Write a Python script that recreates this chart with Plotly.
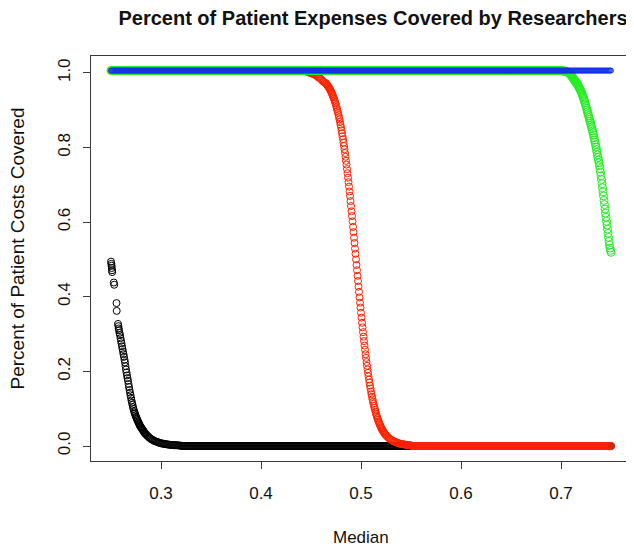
import numpy as np
import plotly.graph_objects as go

def grid(a, b, step):
    return np.round(np.arange(a, b + step / 2, step), 4).tolist()

# ---------------- data ----------------
plateau = 1.006

# black series
black_start_x = [0.2500, 0.2503, 0.2506, 0.2508, 0.2510, 0.2512, 0.2528, 0.2532, 0.2555, 0.2557,
                 0.2570, 0.2574, 0.2577, 0.2580, 0.2585, 0.2590, 0.2595, 0.2600, 0.2605, 0.2610,
                 0.2615, 0.2620, 0.2625, 0.2630, 0.2635, 0.2640, 0.2645]
black_start_y = [0.494, 0.488, 0.483, 0.477, 0.471, 0.466, 0.438, 0.432, 0.383, 0.362,
                 0.327, 0.321, 0.315, 0.310, 0.303, 0.297, 0.289, 0.282, 0.275, 0.267,
                 0.260, 0.253, 0.246, 0.239, 0.231, 0.224, 0.214]
black_fine_y = [0.205, 0.197, 0.189, 0.182, 0.175, 0.166, 0.158, 0.150, 0.143, 0.136,
                0.129, 0.122, 0.116, 0.110, 0.104, 0.099, 0.094, 0.090, 0.086, 0.082,
                0.078, 0.075, 0.072, 0.069, 0.066, 0.063, 0.060, 0.057, 0.054, 0.052,
                0.050, 0.048, 0.046, 0.044, 0.042, 0.040, 0.038, 0.036, 0.034, 0.033, 0.031]
black_coarse_y = [0.028, 0.026, 0.023, 0.021, 0.019, 0.017, 0.016, 0.014, 0.013, 0.012,
                  0.011, 0.010, 0.009, 0.008, 0.007, 0.007, 0.006, 0.006, 0.005, 0.005,
                  0.004, 0.004, 0.004, 0.003, 0.003, 0.003, 0.003, 0.002, 0.002, 0.002,
                  0.002, 0.002, 0.001, 0.001, 0.001]

# red series
red_shoulder_y = [1.004, 1.003, 1.002, 1.001, 1.000, 0.999, 0.998, 0.997, 0.996, 0.995,
                  0.993, 0.991, 0.989, 0.987, 0.985, 0.983, 0.980, 0.977, 0.975, 0.973]
red_drop_y = [0.972, 0.970, 0.968, 0.966, 0.964, 0.962, 0.960, 0.958, 0.955, 0.953,
              0.950, 0.947, 0.944, 0.941, 0.937, 0.934, 0.930, 0.926, 0.922, 0.918,
              0.913, 0.908, 0.903, 0.898, 0.893, 0.887, 0.881, 0.875, 0.868, 0.861,
              0.854, 0.846, 0.838, 0.830, 0.822, 0.813, 0.804, 0.795, 0.785, 0.775,
              0.764, 0.754, 0.742, 0.731, 0.719, 0.707, 0.695, 0.682, 0.670, 0.656,
              0.643, 0.629, 0.616, 0.602, 0.587, 0.573, 0.558, 0.544, 0.529, 0.515,
              0.500,
              0.485, 0.471, 0.456, 0.442, 0.427, 0.413, 0.398, 0.384, 0.371, 0.357,
              0.344, 0.330, 0.318, 0.305, 0.293, 0.281, 0.269, 0.258, 0.246, 0.236,
              0.225, 0.215, 0.205, 0.196, 0.187, 0.178, 0.170, 0.162, 0.154, 0.146,
              0.139, 0.132, 0.125, 0.119, 0.113, 0.107, 0.102, 0.097, 0.092, 0.087,
              0.082, 0.078, 0.074, 0.070, 0.066, 0.063, 0.059, 0.056, 0.053, 0.050,
              0.047, 0.045, 0.042, 0.040, 0.038, 0.036, 0.034, 0.032, 0.030, 0.029]
red_tail_y = [0.026, 0.023, 0.021, 0.019, 0.017, 0.015, 0.014, 0.012, 0.011, 0.010,
              0.009, 0.008, 0.007, 0.006, 0.006, 0.005, 0.005, 0.004, 0.004, 0.003,
              0.003, 0.003, 0.002, 0.002, 0.002]

# green series
green_drop_y = [1.006, 1.006, 1.006, 1.005, 1.005, 1.005, 1.005, 1.004, 1.004, 1.004, 1.003, 1.003, 1.003,
                1.002, 1.001, 1.000, 0.999, 0.998, 0.997, 0.996, 0.994, 0.992, 0.990, 0.988, 0.986,
                0.984, 0.982, 0.980, 0.978, 0.976, 0.974, 0.973, 0.971, 0.969, 0.966, 0.964, 0.961,
                0.958, 0.956, 0.953, 0.950, 0.947, 0.944, 0.940, 0.936, 0.932, 0.928, 0.924, 0.920,
                0.915, 0.910, 0.905, 0.900, 0.895, 0.890, 0.885, 0.880, 0.875, 0.870, 0.865, 0.860,
                0.855, 0.850, 0.844, 0.839, 0.833, 0.826, 0.820, 0.814, 0.808, 0.801, 0.794, 0.787,
                0.780, 0.773, 0.766, 0.759, 0.751, 0.743, 0.734, 0.724, 0.714, 0.703, 0.692, 0.681,
                0.670, 0.658, 0.647, 0.635, 0.624, 0.613, 0.602, 0.592, 0.581, 0.570, 0.559, 0.548,
                0.538, 0.530, 0.524, 0.519]

x_tick_vals = [0.3, 0.4, 0.5, 0.6, 0.7]
x_tick_text = ["0.3", "0.4", "0.5", "0.6", "0.7"]
y_tick_vals = [0.0, 0.2, 0.4, 0.6, 0.8, 1.0]
y_tick_text = ["0.0", "0.2", "0.4", "0.6", "0.8", "1.0"]

# ---------------- assemble ----------------
bx_fine = grid(0.265, 0.285, 0.0005)
bx_coarse = grid(0.286, 0.320, 0.001)
bx_flat = grid(0.321, 0.750, 0.001)
black_x = black_start_x + bx_fine + bx_coarse + bx_flat
black_y = black_start_y + black_fine_y + black_coarse_y + [0.0] * len(bx_flat)

rx_plat = grid(0.250, 0.444, 0.001)
rx_sh = grid(0.445, 0.464, 0.001)
rx_drop = grid(0.465, 0.525, 0.0005)
rx_tail = grid(0.526, 0.550, 0.001)
rx_flat = grid(0.551, 0.750, 0.001)
red_x = rx_plat + rx_sh + rx_drop + rx_tail + rx_flat
red_y = [plateau] * len(rx_plat) + red_shoulder_y + red_drop_y + red_tail_y + [0.0] * len(rx_flat)

gx_plat = grid(0.250, 0.699, 0.001)
gx_drop = grid(0.700, 0.750, 0.0005)
green_x = gx_plat + gx_drop
green_y = [plateau] * len(gx_plat) + green_drop_y

blue_x = grid(0.250, 0.750, 0.001)
blue_y = [plateau] * len(blue_x)

series = [
    (black_x, black_y, "#000000", 7),
    (red_x, red_y, "#ff2200", 7),
    (green_x, green_y, "#22ee22", 8),
    (blue_x, blue_y, "#1030e8", 5),
]

fig = go.Figure()
for xs, ys, col, sz in series:
    fig.add_trace(go.Scatter(
        x=xs, y=ys, mode="markers",
        marker=dict(symbol="circle-open", size=sz, color=col, line=dict(width=1, color=col)),
        showlegend=False, hoverinfo="skip",
    ))

FONT = "Liberation Sans, Arial, Helvetica, sans-serif"
LINE = "#3a3a3a"
axis_common = dict(
    showgrid=False, zeroline=False, showline=True, mirror=True,
    linecolor=LINE, linewidth=1, layer="above traces",
    ticks="outside", ticklen=7, tickwidth=1, tickcolor=LINE,
    tickfont=dict(family=FONT, size=17, color="#111111"),
)
# page body adds an 8px offset, so the figure is 626x542 placed at (8, 8)
fig.update_layout(
    width=626, height=542,
    margin=dict(l=83, r=3, t=48, b=89),
    paper_bgcolor="white", plot_bgcolor="white",
    title=dict(text="<b>Percent of Patient Expenses Covered by Researchers</b>",
               font=dict(family=FONT, size=20, color="#111111"),
               x=0.5 + 12 / 540, xref="paper", xanchor="center",
               y=1 - 10 / 542, yref="container", yanchor="middle"),
    xaxis=dict(range=[0.23, 0.77], tickmode="array", tickvals=x_tick_vals,
               ticktext=x_tick_text, ticklabelstandoff=10, **axis_common),
    yaxis=dict(range=[-0.0402, 1.045], tickmode="array", tickvals=y_tick_vals,
               ticktext=y_tick_text, tickangle=-90, ticklabelstandoff=6, **axis_common),
    annotations=[
        dict(text="Median", xref="paper", yref="paper", x=0.5, y=0,
             xanchor="center", yanchor="middle", yshift=-76, showarrow=False,
             font=dict(family=FONT, size=17, color="#111111")),
        dict(text="Percent of Patient Costs Covered", xref="paper", yref="paper",
             x=0, y=0.5, xanchor="center", yanchor="middle", xshift=-74, yshift=10,
             textangle=-90, showarrow=False,
             font=dict(family=FONT, size=19, color="#111111")),
    ],
)

fig.write_html("out.html")
